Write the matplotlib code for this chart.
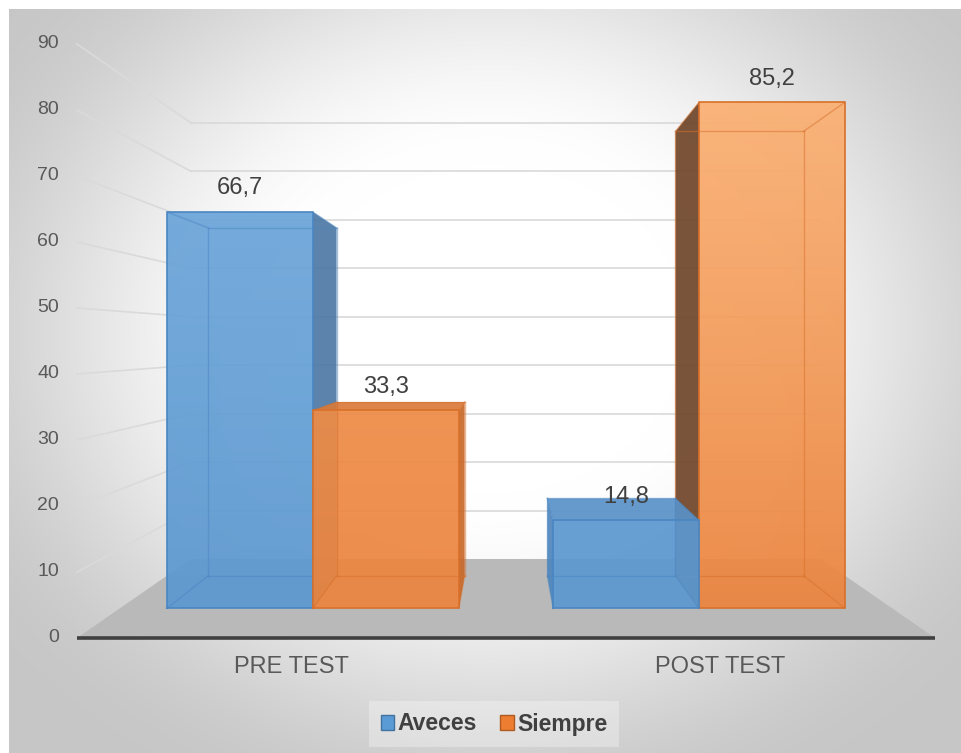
import numpy as np
import matplotlib
matplotlib.use('Agg')
import matplotlib.pyplot as plt
from matplotlib.patches import Polygon, Patch
from matplotlib.colors import to_rgb

# data
categories = ['PRE TEST', 'POST TEST']
series_names = ['Aveces', 'Siempre']
aveces = [66.7, 14.8]
siempre = [33.3, 85.2]
aveces_labels = ['66,7', '14,8']
siempre_labels = ['33,3', '85,2']
yticks = [0, 10, 20, 30, 40, 50, 60, 70, 80, 90]

plt.rcParams['font.family'] = ['Liberation Sans', 'DejaVu Sans']

# layout of the fake 3d scene (front plane in data units)
W_PX, H_PX = 961, 753
X0_PX, PX_PER_X = 77, 429.0      # x=0 of category axis, pixels per category
Y0_PX, PX_PER_V = 638, 6.6       # value 0 row, pixels per value unit
VX, VV = 1.0, 45.0               # vanishing point (data units)
S_FLOOR = 0.734                  # depth scale of the back wall
S_FRONT, S_BACK = 0.90, 0.79     # depth scale of bar front / back faces
BAR_W = 0.378

colors = {
    'Aveces': dict(base='#5c98d0', light='#78b0e2', side_r='#4d79a4', side_l='#4f86bd',
                   top='#5a92c8', edge='#4a86c2'),
    'Siempre': dict(base='#ec853f', light='#fcb579', side_r='#c9682a', side_l='#6f4529',
                    top='#d97a3a', edge='#d8702a'),
}


def px_x(px):
    return (px - X0_PX) / PX_PER_X


def px_v(py):
    return (Y0_PX - py) / PX_PER_V


def proj(x, v, s):
    return VX + (x - VX) * s, VV + (v - VV) * s


def mix(c1, c2, t):
    a, b = np.array(to_rgb(c1)), np.array(to_rgb(c2))
    return a + (b - a) * t


fig = plt.figure(figsize=(W_PX / 100, H_PX / 100), dpi=100)
fig.patch.set_facecolor('white')
ax = fig.add_axes([0, 0, 1, 1])
ax.set_xlim(px_x(0), px_x(W_PX))
ax.set_ylim(px_v(H_PX), px_v(0))
ax.axis('off')

# background radial gradient
gx, gy = np.meshgrid(np.arange(9, W_PX), np.arange(10, H_PX))
d = np.sqrt(((gx - 490) / 560.0) ** 2 + ((gy - 330) / 470.0) ** 2)
t = np.clip((d - 0.35) / 0.75, 0, 1)
t = t * t * (3 - 2 * t)
val = 1.0 - 0.22 * t
bg = np.dstack([val, val, val])
ax.imshow(bg, extent=(px_x(9), px_x(W_PX), px_v(H_PX), px_v(10)),
          aspect='auto', zorder=0, interpolation='bilinear')

# floor
floor = [proj(0, 0, 1), proj(2, 0, 1), proj(2, 0, S_FLOOR), proj(0, 0, S_FLOOR)]
ax.add_patch(Polygon(floor, closed=True, facecolor='#b9b9b9', edgecolor='none', zorder=1))

# gridlines on side wall and back wall
for v in yticks[1:]:
    a, b = proj(0, v, 1), proj(0, v, S_FLOOR)
    c = proj(2, v, S_FLOOR)
    ax.plot([a[0], b[0]], [a[1], b[1]], color='#dadada', lw=1.2, zorder=1)
    ax.plot([b[0], c[0]], [b[1], c[1]], color='#d9d9d9', lw=1.2, zorder=1)

# front axis line
p0, p1 = proj(0, 0, 1), proj(2, 0, 1)
ax.plot([p0[0], p1[0]], [p0[1], p1[1]], color='#404040', lw=2.6, zorder=2,
        solid_capstyle='butt')

# tick labels
for v in yticks:
    ax.text(px_x(59), v, str(v), ha='right', va='center', fontsize=14, color='#595959', zorder=3)

# category labels
for i, cat in enumerate(categories):
    ax.text(i + 0.5, px_v(667), cat, ha='center', va='center', fontsize=17,
            color='#595959', zorder=3)


def grad_poly(pts, c_bot, c_top, alpha, z):
    poly = Polygon(pts, closed=True, facecolor='none', edgecolor='none')
    ax.add_patch(poly)
    n = 64
    tt = np.linspace(1, 0, n)[:, None]
    img = mix(c_bot, c_top, tt)[:, None, :] * np.ones((1, 2, 1))
    xs = [p[0] for p in pts]
    ys = [p[1] for p in pts]
    im = ax.imshow(img, extent=(min(xs), max(xs), min(ys), max(ys)), aspect='auto',
                   alpha=alpha, zorder=z, interpolation='bilinear')
    im.set_clip_path(poly)


def draw_bar(x0, h, name, label, z):
    c = colors[name]
    x1 = x0 + BAR_W
    F = lambda x, v: proj(x, v, S_FRONT)
    B = lambda x, v: proj(x, v, S_BACK)
    # side faces
    if x1 < VX:
        side = [F(x1, 0), F(x1, h), B(x1, h), B(x1, 0)]
        ax.add_patch(Polygon(side, closed=True, facecolor=c['side_r'], edgecolor='none',
                             alpha=0.92, zorder=z))
    if x0 > VX:
        side = [F(x0, 0), F(x0, h), B(x0, h), B(x0, 0)]
        ax.add_patch(Polygon(side, closed=True, facecolor=c['side_l'], edgecolor='none',
                             alpha=0.92, zorder=z))
    # top face
    if h < VV:
        top = [F(x0, h), F(x1, h), B(x1, h), B(x0, h)]
        ax.add_patch(Polygon(top, closed=True, facecolor=c['top'], edgecolor='none',
                             alpha=0.92, zorder=z + 0.1))
    # front face, lighter towards the top of tall bars
    front = [F(x0, 0), F(x1, 0), F(x1, h), F(x0, h)]
    ht = (h / 90.0) ** 2
    grad_poly(front, c['base'], mix(c['base'], c['light'], ht), 0.93, z + 0.2)
    # box edges
    corners_f = [F(x0, 0), F(x1, 0), F(x1, h), F(x0, h)]
    corners_b = [B(x0, 0), B(x1, 0), B(x1, h), B(x0, h)]
    for k in range(4):
        a, b = corners_b[k], corners_b[(k + 1) % 4]
        ax.plot([a[0], b[0]], [a[1], b[1]], color=c['edge'], lw=1.0, alpha=0.5, zorder=z + 0.3)
        a, b = corners_f[k], corners_b[k]
        ax.plot([a[0], b[0]], [a[1], b[1]], color=c['edge'], lw=1.0, alpha=0.5, zorder=z + 0.3)
    xs = [p[0] for p in corners_f] + [corners_f[0][0]]
    ys = [p[1] for p in corners_f] + [corners_f[0][1]]
    ax.plot(xs, ys, color=c['edge'], lw=1.2, zorder=z + 0.4)
    # value label
    lx, ly = F(x0 + BAR_W / 2, h)
    ax.annotate(label, (lx, ly), xytext=(0, 17), textcoords='offset points', ha='center',
                va='center', fontsize=17, color='#404040', zorder=20)


bars = []
for i in range(len(categories)):
    bars.append((i + 0.5 - BAR_W, aveces[i], 'Aveces', aveces_labels[i]))
    bars.append((i + 0.5, siempre[i], 'Siempre', siempre_labels[i]))
# paint bars farthest from the vanishing point first
bars.sort(key=lambda b: -abs(b[0] + BAR_W / 2 - VX))
for k, b in enumerate(bars):
    draw_bar(*b, z=5 + k)

# legend
handles = [Patch(facecolor='#5b9bd5', edgecolor='#41719c', label='Aveces'),
           Patch(facecolor='#ed7d31', edgecolor='#ae5a21', label='Siempre')]
leg = fig.legend(handles=handles, loc='center', bbox_to_anchor=(494 / W_PX, 1 - 724 / H_PX),
                 ncol=2, frameon=True, fancybox=False, handlelength=0.6, handleheight=0.6,
                 handletextpad=0.15, columnspacing=1.0, borderpad=0.5,
                 prop={'size': 16.5, 'weight': 'bold'})
leg.get_frame().set_facecolor('white')
leg.get_frame().set_edgecolor('none')
leg.get_frame().set_alpha(0.3)
for txt in leg.get_texts():
    txt.set_color('#404040')

fig.savefig('out.png', dpi=100)
